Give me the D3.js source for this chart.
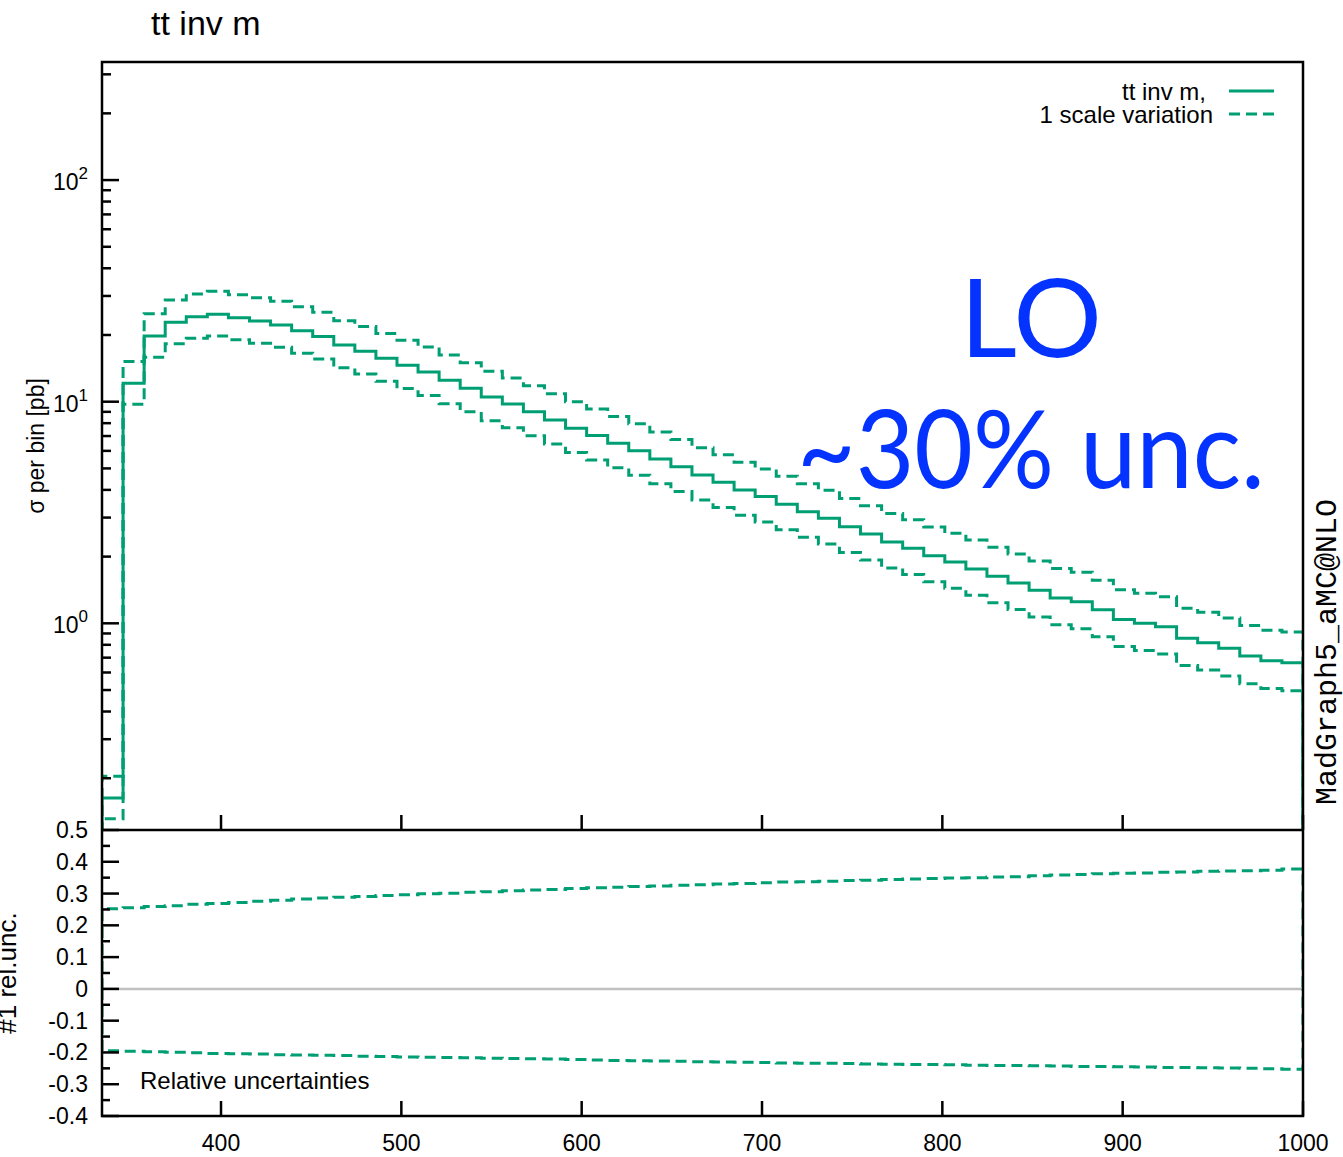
<!DOCTYPE html>
<html>
<head>
<meta charset="utf-8">
<script src="https://cdn.jsdelivr.net/npm/d3@7"></script>
<style>
  body { margin: 0; background: #fff; }
  svg { display: block; font-family: "Liberation Sans", Arial, Helvetica, sans-serif; }
  .frame { stroke: #000; stroke-width: 2.5; fill: none; }
  .tick { stroke: #000; stroke-width: 2.5; }
  .lbl { font-size: 23px; fill: #000; }
  .txt { font-size: 24px; fill: #000; }
  .curve { fill: none; stroke: #009e73; stroke-width: 3; }
  .dash { stroke-dasharray: 11,6; }
  .note { fill: #0433ff; font-family: Lato, "Noto Sans", sans-serif; font-size: 108px; }
</style>
</head>
<body>
<div id="chart"></div>
<script>
// tt invariant mass, bins from 334 to 1000 GeV
var massRange = [334, 1000];

// central value per bin [pb]
var central = [0.163, 12.1, 19.8, 22.8, 24.2, 24.8, 23.9, 23.1, 22.2, 20.9,
  19.7, 18.0, 16.9, 15.7, 14.6, 13.6, 12.5, 11.5, 10.5, 9.76,
  9.01, 8.27, 7.59, 7.03, 6.49, 6.01, 5.51, 5.09, 4.67, 4.33,
  4.00, 3.73, 3.45, 3.19, 2.98, 2.73, 2.53, 2.33, 2.18, 2.02,
  1.89, 1.76, 1.63, 1.52, 1.41, 1.30, 1.25, 1.15, 1.04, 1.00,
  0.965, 0.856, 0.818, 0.771, 0.712, 0.678, 0.664];

// relative scale variation, up and down
var relUp = [0.252, 0.255, 0.259, 0.262, 0.266, 0.269, 0.272, 0.276, 0.279, 0.283,
  0.286, 0.288, 0.291, 0.294, 0.296, 0.299, 0.301, 0.304, 0.306, 0.309,
  0.311, 0.313, 0.316, 0.318, 0.320, 0.322, 0.324, 0.326, 0.328, 0.330,
  0.332, 0.334, 0.336, 0.337, 0.339, 0.341, 0.342, 0.344, 0.346, 0.347,
  0.349, 0.350, 0.352, 0.353, 0.356, 0.358, 0.360, 0.362, 0.364, 0.365,
  0.367, 0.368, 0.370, 0.371, 0.372, 0.373, 0.377];

var relDown = [-0.195, -0.196, -0.198, -0.199, -0.201, -0.203, -0.204, -0.205, -0.207, -0.208,
  -0.209, -0.210, -0.212, -0.213, -0.214, -0.215, -0.216, -0.217, -0.218, -0.219,
  -0.220, -0.221, -0.222, -0.224, -0.225, -0.226, -0.227, -0.228, -0.229, -0.230,
  -0.231, -0.232, -0.233, -0.234, -0.234, -0.235, -0.236, -0.237, -0.238, -0.238,
  -0.239, -0.240, -0.241, -0.241, -0.242, -0.243, -0.244, -0.244, -0.245, -0.246,
  -0.247, -0.247, -0.248, -0.249, -0.250, -0.251, -0.253];

var xTicks = [400, 500, 600, 700, 800, 900, 1000];
var yDecades = [1, 10, 100];
var ratioTicks = [0.5, 0.4, 0.3, 0.2, 0.1, 0, -0.1, -0.2, -0.3, -0.4];
var legendLabels = ['tt inv m,', '1 scale variation'];

var W = 1343, H = 1157;
var box = { left: 102, right: 1303, top: 62, mid: 830, bottom: 1116 };

var svg = d3.select('#chart').append('svg')
  .attr('width', W)
  .attr('height', H);

svg.append('rect').attr('width', W).attr('height', H).attr('fill', '#fff');

var x = d3.scaleLinear().domain(massRange).range([box.left, box.right]);
var y = d3.scaleLog().domain([0.1168, 341]).range([box.mid, box.top]);
var yr = d3.scaleLinear().domain([-0.4, 0.5]).range([box.bottom, box.mid]);

var nBins = central.length;
var edges = d3.range(nBins + 1).map(i => massRange[0] + i * (massRange[1] - massRange[0]) / nBins);

var upper = central.map((v, i) => v * (1 + relUp[i]));
var lower = central.map((v, i) => v * (1 + relDown[i]));

// gnuplot style histeps, starting and ending on the baseline
function histeps(values, ys, base) {
  var p = d3.path();
  p.moveTo(x(edges[0]), base);
  values.forEach((v, i) => {
    p.lineTo(x(edges[i]), ys(v));
    p.lineTo(x(edges[i + 1]), ys(v));
  });
  p.lineTo(x(edges[nBins]), base);
  return p.toString();
}

var defs = svg.append('defs');
defs.append('clipPath').attr('id', 'clip-main')
  .append('rect')
  .attr('x', box.left).attr('y', box.top)
  .attr('width', box.right - box.left).attr('height', box.mid - box.top);
defs.append('clipPath').attr('id', 'clip-ratio')
  .append('rect')
  .attr('x', box.left).attr('y', box.mid)
  .attr('width', box.right - box.left).attr('height', box.bottom - box.mid);

// main panel
var main = svg.append('g').attr('clip-path', 'url(#clip-main)');
main.append('path').attr('class', 'curve dash').attr('d', histeps(upper, y, box.mid + 20));
main.append('path').attr('class', 'curve dash').attr('d', histeps(lower, y, box.mid + 20));
main.append('path').attr('class', 'curve').attr('d', histeps(central, y, box.mid + 20));

// ratio panel
var ratio = svg.append('g').attr('clip-path', 'url(#clip-ratio)');
ratio.append('line')
  .attr('x1', box.left).attr('x2', box.right)
  .attr('y1', yr(0)).attr('y2', yr(0))
  .attr('stroke', '#c0c0c0').attr('stroke-width', 2.5);
ratio.append('path').attr('class', 'curve dash').attr('d', histeps(relUp, yr, yr(0)));
ratio.append('path').attr('class', 'curve dash').attr('d', histeps(relDown, yr, yr(0)));

// y ticks, main panel
var minor = [];
[-1, 0, 1, 2].forEach(k => {
  d3.range(2, 10).forEach(m => {
    var v = m * Math.pow(10, k);
    if (v > y.domain()[0] && v < y.domain()[1]) minor.push(v);
  });
});

svg.append('g').selectAll('line').data(minor).join('line')
  .attr('class', 'tick')
  .attr('x1', box.left).attr('x2', box.left + 9)
  .attr('y1', d => y(d)).attr('y2', d => y(d));

svg.append('g').selectAll('line').data(yDecades).join('line')
  .attr('class', 'tick')
  .attr('x1', box.left).attr('x2', box.left + 17)
  .attr('y1', d => y(d)).attr('y2', d => y(d));

var decLbl = svg.append('g').selectAll('text').data(yDecades).join('text')
  .attr('class', 'lbl')
  .attr('x', 88)
  .attr('y', d => y(d) + 10)
  .attr('text-anchor', 'end');
decLbl.append('tspan').text('10');
decLbl.append('tspan')
  .attr('dy', -11)
  .style('font-size', '17px')
  .text(d => Math.round(Math.log10(d)));

// y ticks, ratio panel
var ratioMinor = d3.range(-0.35, 0.5, 0.1);

svg.append('g').selectAll('line').data(ratioMinor).join('line')
  .attr('class', 'tick')
  .attr('x1', box.left).attr('x2', box.left + 8)
  .attr('y1', d => yr(d)).attr('y2', d => yr(d));

svg.append('g').selectAll('line').data(ratioTicks).join('line')
  .attr('class', 'tick')
  .attr('x1', box.left).attr('x2', box.left + 17)
  .attr('y1', d => yr(d)).attr('y2', d => yr(d));

svg.append('g').selectAll('text').data(ratioTicks).join('text')
  .attr('class', 'lbl')
  .attr('x', 88)
  .attr('y', d => yr(d) + 8)
  .attr('text-anchor', 'end')
  .text(d => d === 0 ? '0' : d.toFixed(1));

// x ticks, pointing up from both panel bottoms
[box.mid, box.bottom].forEach(yb => {
  svg.append('g').selectAll('line').data(xTicks).join('line')
    .attr('class', 'tick')
    .attr('x1', d => x(d)).attr('x2', d => x(d))
    .attr('y1', yb).attr('y2', yb - 15);
});

svg.append('g').selectAll('text').data(xTicks).join('text')
  .attr('class', 'lbl')
  .attr('x', d => x(d))
  .attr('y', 1151)
  .attr('text-anchor', 'middle')
  .text(d => d);

// frame
svg.append('rect').attr('class', 'frame')
  .attr('x', box.left).attr('y', box.top)
  .attr('width', box.right - box.left).attr('height', box.bottom - box.top);
svg.append('line').attr('class', 'frame')
  .attr('x1', box.left).attr('x2', box.right)
  .attr('y1', box.mid).attr('y2', box.mid);

// titles and labels
svg.append('text')
  .attr('x', 151).attr('y', 35)
  .style('font-size', '34px')
  .text('tt inv m');

svg.append('text')
  .attr('class', 'txt')
  .attr('transform', 'translate(44, 446) rotate(-90)')
  .attr('text-anchor', 'middle')
  .style('font-size', '23px')
  .text('\u03c3 per bin [pb]');

svg.append('text')
  .attr('class', 'txt')
  .attr('transform', 'translate(16, 973) rotate(-90)')
  .attr('text-anchor', 'middle')
  .style('font-size', '26px')
  .text('#1 rel.unc.');

svg.append('text')
  .attr('transform', 'translate(1336, 652) rotate(-90)')
  .attr('text-anchor', 'middle')
  .style('font-family', '"Courier New", "Liberation Mono", monospace')
  .style('font-size', '30px')
  .text('MadGraph5_aMC@NLO');

svg.append('text')
  .attr('class', 'txt')
  .attr('x', 140).attr('y', 1089)
  .text('Relative uncertainties');

// legend
var legend = svg.append('g');
legend.append('text').attr('class', 'txt')
  .attr('x', 1206).attr('y', 100).attr('text-anchor', 'end')
  .text(legendLabels[0]);
legend.append('text').attr('class', 'txt')
  .attr('x', 1213).attr('y', 123).attr('text-anchor', 'end')
  .text(legendLabels[1]);
legend.append('line').attr('class', 'curve')
  .attr('x1', 1229).attr('x2', 1274).attr('y1', 91).attr('y2', 91);
legend.append('line').attr('class', 'curve dash')
  .attr('x1', 1229).attr('x2', 1274).attr('y1', 114).attr('y2', 114);

// annotation
svg.append('text').attr('class', 'note')
  .attr('x', 960).attr('y', 357)
  .attr('textLength', 142).attr('lengthAdjust', 'spacingAndGlyphs')
  .text('LO');
svg.append('text').attr('class', 'note')
  .attr('x', 797).attr('y', 488)
  .attr('textLength', 468).attr('lengthAdjust', 'spacingAndGlyphs')
  .text('~30% unc.');
</script>
</body>
</html>
